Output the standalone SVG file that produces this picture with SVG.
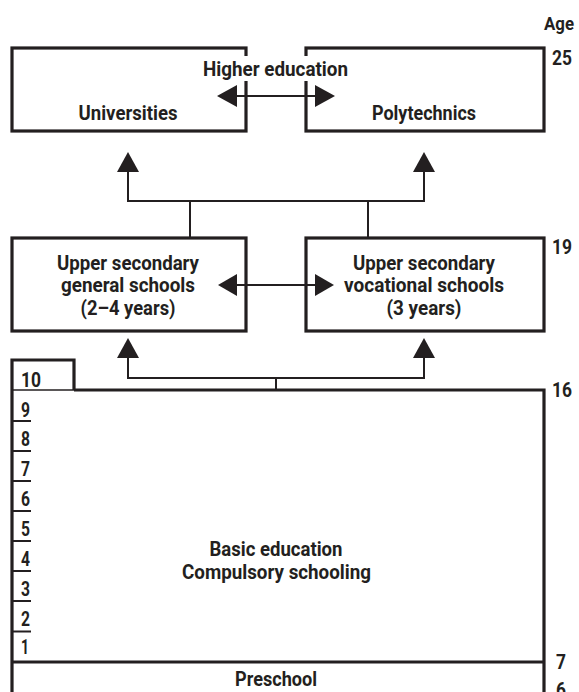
<svg xmlns="http://www.w3.org/2000/svg" width="579" height="692" viewBox="0 0 579 692">
<style>
text{font-family:Roboto,"Liberation Sans",sans-serif;font-weight:700;font-size:21px;fill:#231f20}
.c{text-anchor:middle}
.s{font-size:20px}
.box{fill:none;stroke:#231f20;stroke-width:3.2}
.ln{fill:none;stroke:#231f20;stroke-width:2}
.ah{fill:#231f20}
</style>
<rect width="579" height="692" fill="#fff"/>
<g id="age-labels">
<text x="544" y="30" style="font-size:19px" textLength="30" lengthAdjust="spacingAndGlyphs">Age</text>
<text x="552" y="65" textLength="20" lengthAdjust="spacingAndGlyphs">25</text>
<text x="552" y="254" textLength="20" lengthAdjust="spacingAndGlyphs">19</text>
<text x="552" y="397" textLength="20" lengthAdjust="spacingAndGlyphs">16</text>
<text x="556" y="669" textLength="10" lengthAdjust="spacingAndGlyphs">7</text>
<text x="556" y="697" textLength="10" lengthAdjust="spacingAndGlyphs">6</text>
</g>
<g id="universities">
<rect class="box" x="12" y="48" width="234" height="83"/>
<text class="c" x="128" y="120" textLength="99" lengthAdjust="spacingAndGlyphs">Universities</text>
</g>
<g id="polytechnics">
<rect class="box" x="306" y="48" width="238" height="83"/>
<text class="c" x="424" y="120" textLength="104" lengthAdjust="spacingAndGlyphs">Polytechnics</text>
</g>
<g id="higher-education-label">
<rect x="200" y="56" width="152" height="25" fill="#fff"/>
<text class="c" x="275.5" y="76" textLength="145" lengthAdjust="spacingAndGlyphs">Higher education</text>
</g>
<g id="upper-general">
<rect class="box" x="12" y="238" width="234" height="93"/>
<text class="c s" x="128" y="270" textLength="142" lengthAdjust="spacingAndGlyphs">Upper secondary</text>
<text class="c s" x="128" y="292" textLength="134" lengthAdjust="spacingAndGlyphs">general schools</text>
<text class="c s" x="128" y="315" textLength="95" lengthAdjust="spacingAndGlyphs">(2–4 years)</text>
</g>
<g id="upper-vocational">
<rect class="box" x="306" y="238" width="238" height="93"/>
<text class="c s" x="424" y="270" textLength="142" lengthAdjust="spacingAndGlyphs">Upper secondary</text>
<text class="c s" x="424" y="292" textLength="160" lengthAdjust="spacingAndGlyphs">vocational schools</text>
<text class="c s" x="424" y="315" textLength="75" lengthAdjust="spacingAndGlyphs">(3 years)</text>
</g>
<g id="basic-education">
<path class="box" d="M74 390 H544 V692 M12 692 V360 H74 V390"/>
<line x1="12" y1="390" x2="74" y2="390" stroke="#231f20" stroke-width="1.5"/>
<line x1="12" y1="662" x2="544" y2="662" stroke="#231f20" stroke-width="3.2"/>
<g stroke="#231f20" stroke-width="2">
<line x1="12" y1="421" x2="31" y2="421"/>
<line x1="12" y1="451" x2="31" y2="451"/>
<line x1="12" y1="481" x2="31" y2="481"/>
<line x1="12" y1="511" x2="31" y2="511"/>
<line x1="12" y1="541" x2="31" y2="541"/>
<line x1="12" y1="571" x2="31" y2="571"/>
<line x1="12" y1="601" x2="31" y2="601"/>
<line x1="12" y1="631.5" x2="31" y2="631.5"/>
</g>
<text x="21" y="387" textLength="20" lengthAdjust="spacingAndGlyphs">10</text>
<text x="21" y="417" textLength="9" lengthAdjust="spacingAndGlyphs">9</text>
<text x="21" y="446" textLength="9" lengthAdjust="spacingAndGlyphs">8</text>
<text x="21" y="476" textLength="9" lengthAdjust="spacingAndGlyphs">7</text>
<text x="21" y="506" textLength="9" lengthAdjust="spacingAndGlyphs">6</text>
<text x="21" y="536" textLength="9" lengthAdjust="spacingAndGlyphs">5</text>
<text x="21" y="566" textLength="9" lengthAdjust="spacingAndGlyphs">4</text>
<text x="21" y="596" textLength="9" lengthAdjust="spacingAndGlyphs">3</text>
<text x="21" y="626" textLength="9" lengthAdjust="spacingAndGlyphs">2</text>
<text x="21" y="654" textLength="8" lengthAdjust="spacingAndGlyphs">1</text>
<text class="c" x="276" y="556" textLength="133" lengthAdjust="spacingAndGlyphs">Basic education</text>
<text class="c" x="276.5" y="579" textLength="189" lengthAdjust="spacingAndGlyphs">Compulsory schooling</text>
<text class="c" x="276" y="686" textLength="82" lengthAdjust="spacingAndGlyphs">Preschool</text>
</g>
<g id="connectors">
<path class="ln" d="M236 96 H316"/>
<polygon class="ah" points="217,96 237,85 237,107"/>
<polygon class="ah" points="335,96 315,85 315,107"/>
<path class="ln" d="M128 171 V201 H424 V171 M190 201 V238 M368 201 V238"/>
<polygon class="ah" points="128,152 117,172 139,172"/>
<polygon class="ah" points="424,152 413,172 435,172"/>
<path class="ln" d="M236 285 H316"/>
<polygon class="ah" points="218,285 237,274 237,296"/>
<polygon class="ah" points="334,285 315,274 315,296"/>
<path class="ln" d="M128 357 V378 H424 V357 M276 378 V390"/>
<polygon class="ah" points="128,338 117,358 139,358"/>
<polygon class="ah" points="424,338 413,358 435,358"/>
</g>
</svg>
